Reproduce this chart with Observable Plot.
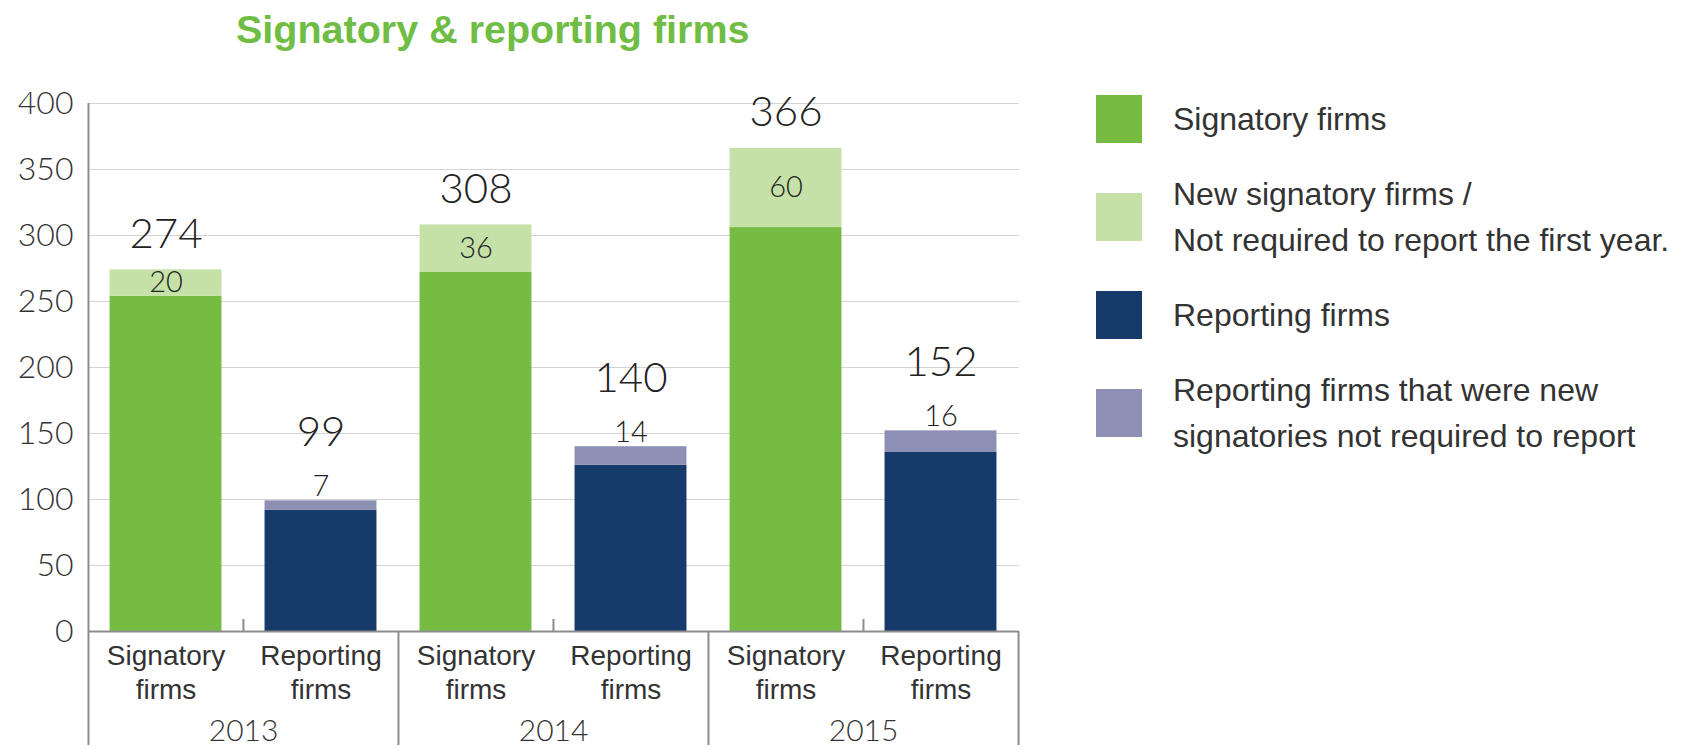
<!DOCTYPE html>
<html><head><meta charset="utf-8">
<script src="https://cdn.jsdelivr.net/npm/d3@7"></script>
<script src="https://cdn.jsdelivr.net/npm/@observablehq/plot@0.6"></script>
<style>
html,body{margin:0;padding:0;background:#fff;}
#page{position:relative;width:1681px;height:750px;overflow:hidden;font-family:"Liberation Sans",Arial,sans-serif;}
#title{position:relative;height:64px;}
#title span{position:absolute;left:236px;top:10px;font-size:39.5px;line-height:39.5px;font-weight:bold;color:#6fbd44;white-space:nowrap;}
#legend{position:absolute;left:1096px;top:69.5px;display:grid;grid-auto-rows:98px;}
.item{display:flex;align-items:center;}
.sw{width:46px;height:48px;flex:none;margin-right:31px;}
.lab{font-size:32px;line-height:46px;color:#333;white-space:nowrap;}
[aria-label^="y-axis"] text{font-size:32px;font-family:Lato,"Liberation Sans",sans-serif;font-weight:300;fill:#333;}
</style></head>
<body><div id="page"><div id="title"><span></span></div><div id="chart"></div><div id="legend"></div></div>
<script>
const titleText = "Signatory & reporting firms";
const years = ["2013", "2014", "2015"];
const barTypes = ["Signatory", "Reporting"];
const barLabels = ["Signatory\nfirms", "Reporting\nfirms"];
const signatoryBase = [254, 272, 306];
const signatoryNew = [20, 36, 60];
const reportingBase = [92, 126, 136];
const reportingNew = [7, 14, 16];
const seriesNames = [
  "Signatory firms",
  "New signatory firms /\nNot required to report the first year.",
  "Reporting firms",
  "Reporting firms that were new\nsignatories not required to report"
];
const seriesColors = ["#76bc42", "#c5e1a8", "#163a6a", "#8e8fb4"];

// layout
const W = 1040, H = 686, mL = 88, mR = 21.5, mT = 39, mB = 119;
const step = (W - mL - mR) / (years.length * barTypes.length);
const barW = 112, ins = (step - barW) / 2;
const below = 114;

const key = (y, t) => `${y}|${t}`;
const keys = years.flatMap(y => barTypes.map(t => key(y, t)));

const segments = [];
const stacks = [];
years.forEach((y, i) => {
  segments.push({key: key(y, "Signatory"), y1: 0, y2: signatoryBase[i], series: seriesNames[0]});
  segments.push({key: key(y, "Signatory"), y1: signatoryBase[i], y2: signatoryBase[i] + signatoryNew[i], series: seriesNames[1]});
  segments.push({key: key(y, "Reporting"), y1: 0, y2: reportingBase[i], series: seriesNames[2]});
  segments.push({key: key(y, "Reporting"), y1: reportingBase[i], y2: reportingBase[i] + reportingNew[i], series: seriesNames[3]});
  stacks.push({key: key(y, "Signatory"), type: "Signatory", base: signatoryBase[i], added: signatoryNew[i], total: signatoryBase[i] + signatoryNew[i]});
  stacks.push({key: key(y, "Reporting"), type: "Reporting", base: reportingBase[i], added: reportingNew[i], total: reportingBase[i] + reportingNew[i]});
});
const labelRows = keys.map((k, i) => ({key: k, label: barLabels[i % barTypes.length]}));

const numFont = {fontFamily: "Lato, 'Liberation Sans', sans-serif", fontWeight: 300, fill: "#222"};
const lineStroke = "#8c8c8c";

const chart = Plot.plot({
  width: W, height: H,
  marginLeft: mL, marginRight: mR, marginTop: mT, marginBottom: mB,
  style: {fontFamily: "'Liberation Sans', Arial, sans-serif", fontSize: "28px", color: "#333", background: "#fff"},
  x: {domain: keys, padding: 0, axis: null},
  y: {domain: [0, 400], ticks: 8, tickSize: 0, tickPadding: 15, label: null},
  color: {domain: seriesNames, range: seriesColors},
  marks: [
    Plot.ruleY(d3.range(50, 401, 50), {stroke: "#d4d4d4", strokeWidth: 1.2}),
    Plot.barY(segments, {x: "key", y1: "y1", y2: "y2", fill: "series", insetLeft: ins, insetRight: ins}),
    Plot.ruleY([0], {stroke: lineStroke, strokeWidth: 2}),
    // left axis line
    Plot.ruleX([keys[0]], {x: d => d, dx: -step / 2, stroke: lineStroke, strokeWidth: 2, insetBottom: -below}),
    // year separators below baseline
    Plot.ruleX(years.slice(1).map(y => key(y, "Signatory")), {x: d => d, y1: () => 0, y2: () => 0, dx: -step / 2, stroke: lineStroke, strokeWidth: 2, insetBottom: -below}),
    Plot.ruleX([keys[keys.length - 1]], {x: d => d, y1: () => 0, y2: () => 0, dx: step / 2, stroke: lineStroke, strokeWidth: 2, insetBottom: -below}),
    // small ticks between the two bars
    Plot.ruleX(years.map(y => key(y, "Reporting")), {x: d => d, y1: () => 0, y2: () => 0, dx: -step / 2, stroke: lineStroke, strokeWidth: 2, insetTop: -12}),
    // totals
    Plot.text(stacks.filter(d => d.type === "Signatory"), {x: "key", y: "total", text: d => String(d.total), dy: -22, lineAnchor: "bottom", fontSize: 42, ...numFont}),
    Plot.text(stacks.filter(d => d.type === "Reporting"), {x: "key", y: "total", text: d => String(d.total), dy: -55, lineAnchor: "bottom", fontSize: 42, ...numFont}),
    // new counts
    Plot.text(stacks.filter(d => d.type === "Signatory"), {x: "key", y: d => d.base + d.added / 2, text: d => String(d.added), fontSize: 29, ...numFont}),
    Plot.text(stacks.filter(d => d.type === "Reporting"), {x: "key", y: "total", text: d => String(d.added), dy: -5, lineAnchor: "bottom", fontSize: 29, ...numFont}),
    // category labels
    Plot.text(labelRows, {x: "key", y: () => 0, text: "label", dy: 67, lineAnchor: "bottom", lineHeight: 1.18, fontSize: 28, fill: "#333"}),
    // year labels
    Plot.text(years, {x: y => key(y, "Signatory"), y: () => 0, text: d => d, dx: step / 2, dy: 109, lineAnchor: "bottom", fontSize: 30, ...numFont, fill: "#333"})
  ]
});
document.getElementById("chart").appendChild(chart);
document.querySelector("#title span").textContent = titleText;

const legend = document.getElementById("legend");
seriesNames.forEach((name, i) => {
  const item = document.createElement("div");
  item.className = "item";
  const sw = document.createElement("div");
  sw.className = "sw";
  sw.style.background = seriesColors[i];
  const lab = document.createElement("div");
  lab.className = "lab";
  lab.innerHTML = name.split("\n").map(s => s.replace(/&/g, "&amp;")).join("<br>");
  item.appendChild(sw); item.appendChild(lab);
  legend.appendChild(item);
});
</script>
</body></html>
